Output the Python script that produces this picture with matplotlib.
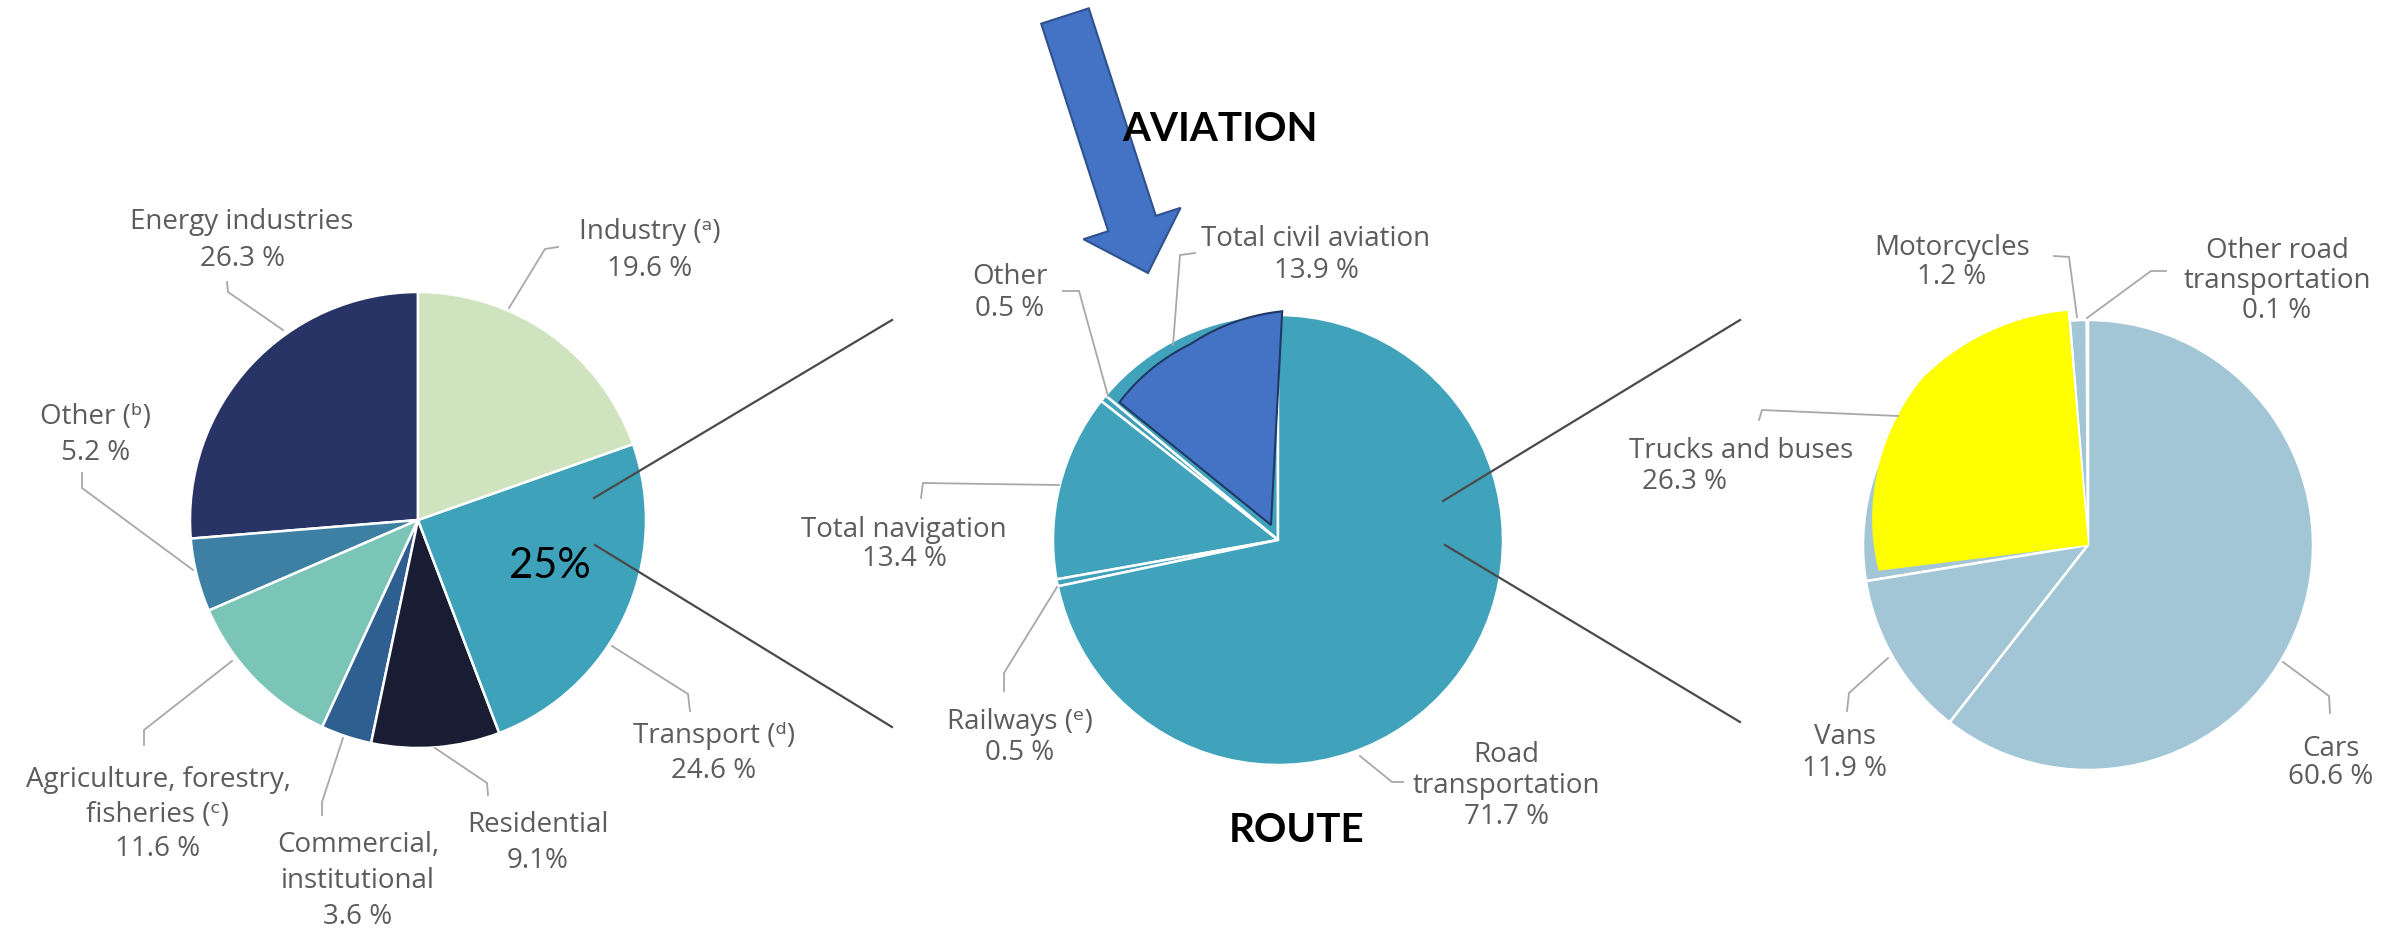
import numpy as np
import matplotlib
matplotlib.use('Agg')
import matplotlib.pyplot as plt
from matplotlib.patches import Polygon, FancyArrow

# ---- data -------------------------------------------------------------
sector_labels = ['Energy industries', 'Other (ᵇ)', 'Agriculture, forestry,\nfisheries (ᶜ)',
                 'Commercial,\ninstitutional', 'Residential', 'Transport (ᵈ)', 'Industry (ᵃ)']
sector_values = [26.3, 5.2, 11.6, 3.6, 9.1, 24.6, 19.6]
sector_text = ['26.3 %', '5.2 %', '11.6 %', '3.6 %', '9.1%', '24.6 %', '19.6 %']
sector_colors = ['#283466', '#3e80a4', '#7bc4b8', '#2f5e91', '#181d33', '#3fa2bb', '#cfe3bf']

transport_labels = ['Total civil aviation', 'Other', 'Total navigation', 'Railways (ᵉ)', 'Road\ntransportation']
transport_values = [13.9, 0.5, 13.4, 0.5, 71.7]
transport_text = ['13.9 %', '0.5 %', '13.4 %', '0.5 %', '71.7 %']

road_labels = ['Other road\ntransportation', 'Motorcycles', 'Trucks and buses', 'Vans', 'Cars']
road_values = [0.1, 1.2, 26.3, 11.9, 60.6]
road_text = ['0.1 %', '1.2 %', '26.3 %', '11.9 %', '60.6 %']

# ---- layout (pixel coords, y measured from top) -----------------------
H = 930
def Y(v):
    return H - v

pies = [  # center x, center y, radius
    (418, 520, 228),
    (1278, 540, 225),
    (2088, 545, 225),
]
# label: x, y of first line, line step, x shift of later lines, leader polyline
sector_layout = [
    (242, 219, 36, 0, [(283, 330), (228, 292), (227, 282)]),
    (96, 414, 36, 0, [(193, 570), (82, 488), (82, 473)]),
    (158, 776, 35, 0, [(232, 661), (144, 730), (144, 745)]),
    (358, 842, 35.5, 0, [(343, 738), (322, 802), (322, 815)]),
    (538, 822, 35, 0, [(435, 748), (487, 783), (488, 795)]),
    (714, 733, 34, 0, [(612, 646), (688, 694), (690, 711)]),
    (650, 228, 37, 0, [(509, 308), (545, 249), (558, 247)]),
]
transport_layout = [
    (1316, 236, 31, 0, [(1173, 345), (1180, 255), (1195, 253)]),
    (1010, 273, 32, 0, [(1108, 396), (1079, 291), (1063, 291)]),
    (904, 526, 30, 0, [(1059, 485), (923, 483), (921, 498)]),
    (1020, 719, 31, 0, [(1057, 587), (1004, 673), (1004, 691)]),
    (1506, 751, 31.5, 0, [(1360, 756), (1392, 782), (1403, 782)]),
]
road_layout = [
    (2277, 247, 30.5, 0, [(2087, 318), (2151, 271), (2166, 271)]),
    (1952, 245, 29, 0, [(2077, 317), (2069, 257), (2054, 256)]),
    (1741, 448, 31, -56, [(1898, 416), (1762, 410), (1759, 420)]),
    (1845, 733, 32, 0, [(1888, 658), (1849, 693), (1847, 711)]),
    (2331, 745, 29, 0, [(2283, 662), (2329, 696), (2330, 713)]),
]
connectors = [
    [(594, 498), (892, 320)], [(595, 545), (892, 727)],
    [(1443, 501), (1740, 320)], [(1445, 545), (1740, 722)],
]

label_font = ['Open Sans', 'DejaVu Sans']
label_color = '#5c5c5c'
leader_color = '#a8a8a8'

fig = plt.figure(figsize=(24, 9.3), dpi=100)
ax = fig.add_axes([0, 0, 1, 1])

wp = dict(edgecolor='white', linewidth=1.8)
cx, cy, r = pies[0]
ax.pie(sector_values, colors=sector_colors, center=(cx, Y(cy)), radius=r,
       startangle=90, counterclock=True, wedgeprops=wp)
cx, cy, r = pies[1]
ax.pie(transport_values, colors=['#40a2bb'] * len(transport_values), center=(cx, Y(cy)),
       radius=r, startangle=90, counterclock=True, wedgeprops=wp)
cx, cy, r = pies[2]
ax.pie(road_values, colors=['#a3c6d6'] * len(road_values), center=(cx, Y(cy)),
       radius=r, startangle=90, counterclock=True, wedgeprops=wp)

# hand drawn highlight shapes pasted over the slices
def blob(apex, angles, radii, n=80):
    th = np.linspace(angles[0], angles[-1], n)
    rr = np.interp(th, angles, radii)
    pts = [(apex[0], Y(apex[1]))]
    pts += [(apex[0] + q * np.cos(np.radians(t)), Y(apex[1]) + q * np.sin(np.radians(t)))
            for t, q in zip(th, rr)]
    return pts

ax.add_patch(Polygon(blob((1271, 525), [87, 114, 141], [214, 198, 195]),
                     closed=True, facecolor='#4472c4', edgecolor='#203864', lw=1.5, zorder=3))
ax.add_patch(Polygon(blob((2088, 545), [95, 135, 187], [235, 235, 211]),
                     closed=True, facecolor='#ffff00', edgecolor='none', zorder=3))

def put_labels(names, vals, layout):
    for name, val, (x, y, dy, dx2, lead) in zip(names, vals, layout):
        lines = name.split('\n') + [val]
        for i, line in enumerate(lines):
            xx = x if i == 0 else x + dx2
            ax.text(xx, Y(y + i * dy), line, ha='center', va='center_baseline',
                    fontsize=20, color=label_color, family=label_font, zorder=5)
        ax.plot([p[0] for p in lead], [Y(p[1]) for p in lead], color=leader_color,
                lw=1.3, solid_joinstyle='miter', zorder=4)

put_labels(sector_labels, sector_text, sector_layout)
put_labels(transport_labels, transport_text, transport_layout)
put_labels(road_labels, road_text, road_layout)

for seg in connectors:
    ax.plot([p[0] for p in seg], [Y(p[1]) for p in seg], color='#4a4a4a', lw=1.6, zorder=4)

# annotations added on top of the chart
ax.text(550, Y(566), '25%', ha='center', va='center', fontsize=30, family='Lato',
        color='black', zorder=6)
ax.text(1220, Y(130), 'AVIATION', ha='center', va='center', fontsize=29, family='Lato',
        fontweight='bold', color='black', zorder=6)
ax.text(1297, Y(830), 'ROUTE', ha='center', va='center', fontsize=29, family='Lato',
        fontweight='bold', color='black', zorder=6)
ax.add_patch(FancyArrow(1065, Y(16), 1148 - 1065, Y(273) - Y(16), width=50,
                        head_width=102, head_length=52, length_includes_head=True,
                        facecolor='#4472c4', edgecolor='#2f528f', lw=1.5, zorder=5))

ax.set_xlim(0, 2400)
ax.set_ylim(0, H)
ax.set_aspect('equal')
ax.axis('off')

fig.savefig('out.png', dpi=100, facecolor='white')
